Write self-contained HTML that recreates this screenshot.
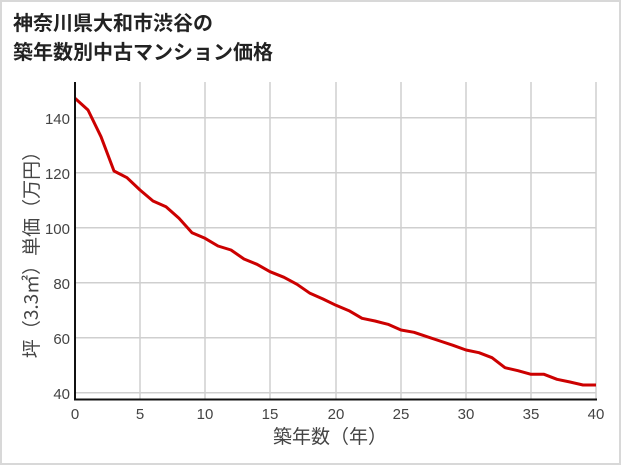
<!DOCTYPE html>
<html><head><meta charset="utf-8"><style>
body{margin:0;background:#fff}
.w{position:relative;width:621px;height:465px;box-sizing:border-box;border:2px solid #d8d8d8;background:#fff;font-family:"Liberation Sans","Noto Sans CJK JP",sans-serif}
.t{position:absolute;left:11px;top:5px;font-size:20px;font-weight:bold;line-height:29px;color:#222;font-family:"Noto Sans CJK JP",sans-serif}
svg{position:absolute;left:0;top:0}
</style></head><body><div class="w">
<div class="t">神奈川県大和市渋谷の<br>築年数別中古マンション価格</div>
<svg width="621" height="465" viewBox="0 0 621 465" style="left:-2px;top:-2px">
<g stroke="#cfcfcf" stroke-width="1.5">
<line x1="140" y1="82" x2="140" y2="399"/><line x1="205" y1="82" x2="205" y2="399"/><line x1="270" y1="82" x2="270" y2="399"/><line x1="336" y1="82" x2="336" y2="399"/><line x1="401" y1="82" x2="401" y2="399"/><line x1="466" y1="82" x2="466" y2="399"/><line x1="531" y1="82" x2="531" y2="399"/><line x1="596" y1="82" x2="596" y2="399"/>
<line x1="75" y1="117.7" x2="596" y2="117.7"/><line x1="75" y1="172.7" x2="596" y2="172.7"/><line x1="75" y1="227.7" x2="596" y2="227.7"/><line x1="75" y1="282.7" x2="596" y2="282.7"/><line x1="75" y1="337.7" x2="596" y2="337.7"/><line x1="75" y1="392.7" x2="596" y2="392.7"/>
</g>
<polyline fill="none" stroke="#cc0000" stroke-width="3" stroke-linejoin="round" points="75,98.3 88,110 101,136.7 114,171 127,177.7 140,190 153,201 166,206.7 179,218.3 192,232.7 205,238.3 218,246 231,250 244,259 257,264.3 270,271.7 284,277.3 297,284.3 310,293.3 323,299 336,305.3 349,310.7 362,318.3 375,321 388,324.3 401,330 414,332.3 427,336.7 440,341 453,345.3 466,350 479,352.7 492,357.7 505,367.7 518,370.7 531,374.3 544,374.3 557,379.3 570,382 583,385 596,385"/>
<line x1="75" y1="82" x2="75" y2="400" stroke="#111" stroke-width="2"/>
<line x1="74" y1="399.5" x2="597" y2="399.5" stroke="#111" stroke-width="2"/>
<g fill="#444" font-size="15" text-anchor="end">
<text x="70" y="124" transform="scale(1,1)">140</text><text x="70" y="179">120</text><text x="70" y="234">100</text><text x="70" y="289">80</text><text x="70" y="344">60</text><text x="70" y="399">40</text>
</g>
<g fill="#444" font-size="15" text-anchor="middle">
<text x="75" y="419">0</text><text x="140" y="419">5</text><text x="205" y="419">10</text><text x="270" y="419">15</text><text x="336" y="419">20</text><text x="401" y="419">25</text><text x="466" y="419">30</text><text x="531" y="419">35</text><text x="596" y="419">40</text>
<text x="330" y="443" font-size="19" font-family="Noto Sans CJK JP,sans-serif">築年数（年）</text>
<text transform="translate(38,250) rotate(-90)" font-size="19" font-family="Noto Sans CJK JP,sans-serif">坪（3.3㎡）単価（万円）</text>
</g>
</svg>
</div></body></html>
